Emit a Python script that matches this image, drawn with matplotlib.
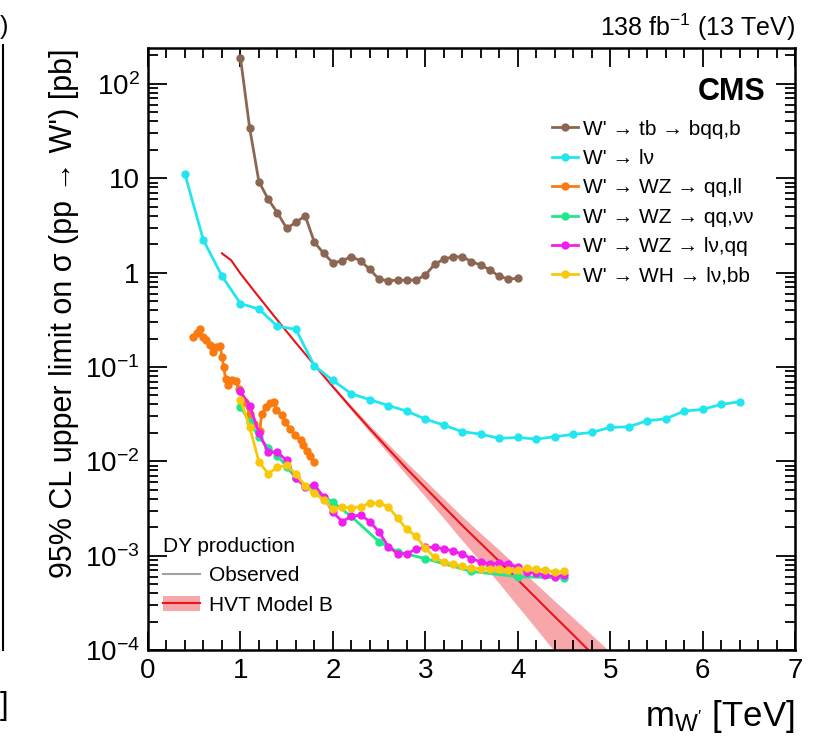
import numpy as np
import matplotlib
matplotlib.use("Agg")
import matplotlib.pyplot as plt
from matplotlib.lines import Line2D
from matplotlib.patches import Patch
from matplotlib.ticker import FixedLocator, MultipleLocator, LogLocator, NullFormatter

plt.rcParams['font.family'] = ['Liberation Sans', 'DejaVu Sans']
plt.rcParams['mathtext.fontset'] = 'custom'
plt.rcParams['mathtext.rm'] = 'Liberation Sans'
plt.rcParams['mathtext.it'] = 'Liberation Sans:italic'
plt.rcParams['mathtext.bf'] = 'Liberation Sans:bold'

# W' -> tb -> bqq,b
tb_m = [1.0, 1.1, 1.2, 1.3, 1.4, 1.5, 1.6, 1.7, 1.8, 1.9, 2.0, 2.1, 2.2, 2.3, 2.4, 2.5,
        2.6, 2.7, 2.8, 2.9, 3.0, 3.1, 3.2, 3.3, 3.4, 3.5, 3.6, 3.7, 3.8, 3.9, 4.0]
tb_lim = [190, 34, 9.2, 6.0, 4.3, 2.95, 3.4, 4.0, 2.1, 1.6, 1.27, 1.33, 1.48, 1.33, 1.08, 0.85,
          0.82, 0.83, 0.83, 0.836, 0.94, 1.22, 1.39, 1.47, 1.47, 1.31, 1.2, 1.07, 0.91, 0.855, 0.87]

# W' -> l nu
lnu_m = [0.4, 0.6, 0.8, 1.0, 1.2, 1.4, 1.6, 1.8, 2.0, 2.2, 2.4, 2.6, 2.8, 3.0, 3.2, 3.4,
         3.6, 3.8, 4.0, 4.2, 4.4, 4.6, 4.8, 5.0, 5.2, 5.4, 5.6, 5.8, 6.0, 6.2, 6.4]
lnu_lim = [11, 2.2, 0.92, 0.47, 0.41, 0.27, 0.25, 0.103, 0.072, 0.052, 0.045, 0.039, 0.034,
           0.028, 0.0242, 0.0206, 0.0194, 0.0175, 0.0179, 0.0172, 0.0182, 0.0193, 0.0202,
           0.0229, 0.0232, 0.0269, 0.0282, 0.034, 0.0355, 0.040, 0.0428]

# W' -> WZ -> qq,ll
qqll_m = [0.49, 0.53, 0.56, 0.59, 0.63, 0.67, 0.70, 0.74, 0.78, 0.80, 0.82, 0.84, 0.87, 0.91,
          0.95, 0.98, 1.0, 1.05, 1.1, 1.15, 1.21, 1.23, 1.28, 1.32, 1.36, 1.39, 1.45, 1.48,
          1.54, 1.59, 1.65, 1.68, 1.72, 1.75, 1.80]
qqll_lim = [0.206, 0.227, 0.25, 0.209, 0.193, 0.171, 0.145, 0.164, 0.168, 0.129, 0.099, 0.074,
            0.064, 0.072, 0.071, 0.059, 0.055, 0.042, 0.032, 0.025, 0.021, 0.032, 0.038, 0.041,
            0.042, 0.035, 0.031, 0.026, 0.022, 0.019, 0.0168, 0.0148, 0.0127, 0.0113, 0.0098]

# W' -> WZ -> qq,nunu
qqnn_m = [1.0, 1.1, 1.2, 1.3, 1.4, 1.5, 1.6, 1.8, 2.0, 2.2, 2.5, 2.7, 3.0, 3.5, 4.0, 4.5]
qqnn_lim = [0.038, 0.026, 0.018, 0.014, 0.0115, 0.0088, 0.0066, 0.0048, 0.0037, 0.0026,
            0.0014, 0.0011, 0.00093, 0.00068, 0.0006, 0.00058]

# W' -> WZ -> lnu,qq  and  W' -> WH -> lnu,bb (same mass grid)
lv_m = [1.0, 1.1, 1.2, 1.3, 1.4, 1.5, 1.6, 1.7, 1.8, 1.9, 2.0, 2.1, 2.2, 2.3, 2.4, 2.5, 2.6, 2.7,
        2.8, 2.9, 3.0, 3.1, 3.2, 3.3, 3.4, 3.5, 3.6, 3.7, 3.8, 3.9, 4.0, 4.1, 4.2, 4.3, 4.4, 4.5]
lvqq_lim = [0.055, 0.039, 0.020, 0.0125, 0.0125, 0.0102, 0.0066, 0.0054, 0.0056, 0.0042,
            0.0029, 0.0023, 0.0026, 0.0027, 0.0023, 0.00178, 0.00125, 0.00105, 0.00105,
            0.00117, 0.00122, 0.00123, 0.00118, 0.00112, 0.00104, 0.00093, 0.00086, 0.00081,
            0.00084, 0.00081, 0.00076, 0.00067, 0.00065, 0.00062, 0.0006, 0.00062]
lvbb_lim = [0.045, 0.023, 0.0099, 0.0074, 0.0086, 0.0091, 0.0073, 0.0055, 0.0046, 0.0039,
            0.0031, 0.0033, 0.0032, 0.0033, 0.0036, 0.0036, 0.0033, 0.0025, 0.0019, 0.0016,
            0.0012, 0.00096, 0.00085, 0.00082, 0.00077, 0.00074, 0.00073, 0.00072, 0.00072,
            0.00071, 0.0007, 0.00074, 0.00072, 0.0007, 0.00067, 0.00068]

# HVT model B cross section and band (half widths in decades, down / up)
hvt_m = [0.8, 0.9, 1.0, 1.2, 1.4, 1.6, 1.8, 2.0, 2.2, 2.4, 2.6, 2.8, 3.0, 3.2, 3.4, 3.6,
         3.8, 4.0, 4.2, 4.4, 4.6, 4.8, 5.0, 5.2]
hvt_xs = [1.6, 1.35, 0.977, 0.55, 0.313, 0.18, 0.105, 0.0617, 0.0367, 0.0221, 0.0135,
          0.00832, 0.00525, 0.00331, 0.00209, 0.00135, 0.000871, 0.000556, 0.000355,
          0.000226, 0.000145, 0.0000923, 0.0000589, 0.0000376]
hvt_dn = [0.008, 0.008, 0.008, 0.008, 0.008, 0.008, 0.012, 0.018, 0.025, 0.035, 0.05, 0.07,
          0.095, 0.125, 0.16, 0.195, 0.235, 0.28, 0.325, 0.37, 0.415, 0.46, 0.5, 0.54]
hvt_up = [0.008, 0.008, 0.008, 0.008, 0.008, 0.008, 0.012, 0.018, 0.025, 0.035, 0.05, 0.065,
          0.075, 0.085, 0.095, 0.105, 0.12, 0.135, 0.15, 0.165, 0.18, 0.195, 0.21, 0.225]

series = [
    (tb_m, tb_lim, '#8b6652', "W' → tb → bqq,b"),
    (lnu_m, lnu_lim, '#22e6ef', "W' → lν"),
    (qqll_m, qqll_lim, '#fb7a10', "W' → WZ → qq,ll"),
    (qqnn_m, qqnn_lim, '#1ee88a', "W' → WZ → qq,νν"),
    (lv_m, lvqq_lim, '#f01ff0', "W' → WZ → lν,qq"),
    (lv_m, lvbb_lim, '#f8c80a', "W' → WH → lν,bb"),
]

fig = plt.figure(figsize=(8.16, 7.41), dpi=100)
ax = fig.add_axes([148 / 816, 1 - 650 / 741, 647 / 816, 602 / 741])

# HVT band + line
xs = np.array(hvt_xs)
lo = xs * 10 ** (-np.array(hvt_dn))
hi = xs * 10 ** (np.array(hvt_up))
ax.fill_between(hvt_m, lo, hi, color='#f7a6aa', lw=0, zorder=1)
ax.plot(hvt_m, hvt_xs, color='#e8141a', lw=1.5, zorder=2)

handles = []
for m, lim, col, lab in series:
    h, = ax.plot(m, lim, color=col, lw=2.0, marker='o', ms=5, mec=col, label=lab, zorder=3)
    handles.append(h)

ax.set_xlim(0, 7)
ax.set_yscale('log')
ax.set_ylim(1e-4, 240)

ax.xaxis.set_major_locator(MultipleLocator(1))
ax.xaxis.set_minor_locator(MultipleLocator(0.2))
ax.yaxis.set_major_locator(FixedLocator([1e-4, 1e-3, 1e-2, 1e-1, 1, 10, 100]))
ax.yaxis.set_minor_locator(LogLocator(base=10, subs=np.arange(2, 10)))
ax.yaxis.set_minor_formatter(NullFormatter())
ax.set_yticklabels(['$10^{-4}$', '$10^{-3}$', '$10^{-2}$', '$10^{-1}$', '1', '10', '$10^{2}$'])
ax.tick_params(which='both', direction='in', top=True, right=True, labelsize=20, width=1.3)
ax.tick_params(which='major', length=14, pad=6)
ax.tick_params(which='minor', length=7)
for s in ax.spines.values():
    s.set_linewidth(1.8)

ax.set_xlabel("m$_{\\mathregular{W'}}$ [TeV]", fontsize=25, loc='right', labelpad=10)
ax.set_ylabel("95% CL upper limit on σ (pp → W') [pb]", fontsize=22, loc='top', labelpad=4)

ax.text(0.955, 0.927, "CMS", transform=ax.transAxes, ha='right', va='center',
        fontsize=22, fontweight='bold')
fig.text(795 / 816, 1 - 27 / 741, "138 fb$^{-1}$ (13 TeV)", ha='right', va='center', fontsize=18)

leg1 = ax.legend(handles=handles, loc='upper left', bbox_to_anchor=(0.612, 0.895), frameon=False,
                 fontsize=15, handlelength=1.25, handletextpad=0.2, labelspacing=0.5,
                 borderaxespad=0)
ax.add_artist(leg1)

obs = Line2D([], [], color='#a0a0a0', lw=1.5)
hvt = (Patch(facecolor='#f7a6aa', lw=0), Line2D([], [], color='#e8141a', lw=1.5))
leg2 = ax.legend([obs, hvt], ['Observed', 'HVT Model B'], title='DY production',
                 loc='lower left', bbox_to_anchor=(0.01, 0.045), frameon=False, fontsize=15,
                 title_fontsize=15, alignment='left', handlelength=1.8, handletextpad=0.4,
                 labelspacing=0.5, borderaxespad=0)

# fragments of the neighbouring panel at the left edge
fig.add_artist(Line2D([3 / 816, 3 / 816], [1 - 650 / 741, 1 - 45 / 741], color='black', lw=1.5))
fig.text(0.0, 1 - 27 / 741, ")", fontsize=18, va='center', ha='left')
fig.text(0.0, 1 - 706 / 741, "]", fontsize=22, va='center', ha='left')

fig.savefig('out.png', dpi=100)
